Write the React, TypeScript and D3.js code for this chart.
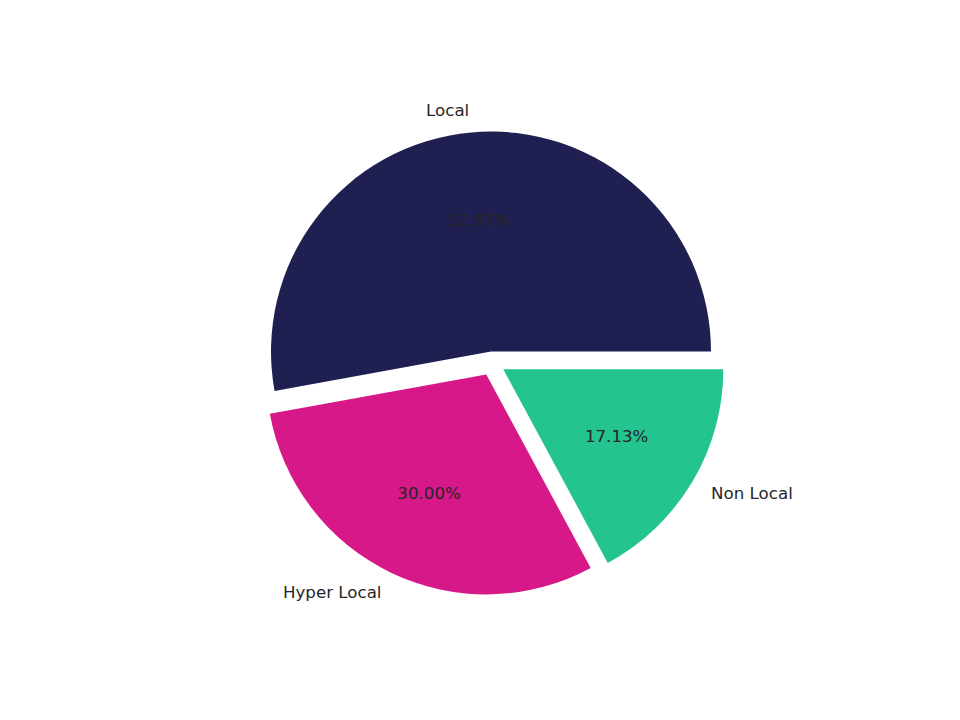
import React from "react";
import * as d3 from "d3";

const categories = ["Local", "Hyper Local", "Non Local"];
const values = [52.87, 30.0, 17.13];
const colors = ["#1f1f52", "#d61888", "#24c491"];
const explode = [0.05, 0.06, 0.06];

export default function App() {
  const width = 960;
  const height = 720;
  const cx = 492;
  const cy = 362.5;
  const r = 220;

  const pie = d3
    .pie<number>()
    .sort(null)
    .value((d) => d)
    .startAngle(Math.PI / 2)
    .endAngle(Math.PI / 2 - 2 * Math.PI);
  const arcs = pie(values);
  const arc = d3.arc<d3.PieArcDatum<number>>().innerRadius(0).outerRadius(r);
  const total = d3.sum(values);
  const textColor = "#262626";

  return (
    <svg
      width={width}
      height={height}
      style={{ position: "absolute", left: 0, top: 0, background: "#fff" }}
      fontFamily="DejaVu Sans, sans-serif"
    >
      {arcs.map((a, i) => {
        const mid = (a.startAngle + a.endAngle) / 2;
        const ux = Math.sin(mid);
        const uy = -Math.cos(mid);
        const ox = cx + ux * explode[i] * r;
        const oy = cy + uy * explode[i] * r;
        const lx = ux * r * 1.1;
        const ly = uy * r * 1.1;
        const px = ux * r * 0.6;
        const py = uy * r * 0.6;
        const pct = ((values[i] / total) * 100).toFixed(2) + "%";
        return (
          <g key={categories[i]} transform={`translate(${ox},${oy})`}>
            <path d={arc(a) || ""} fill={colors[i]} />
            <text
              x={lx}
              y={ly}
              fontSize={16.67}
              fill={textColor}
              textAnchor={lx < 0 ? "end" : "start"}
              dominantBaseline="central"
            >
              {categories[i]}
            </text>
            <text
              x={px}
              y={py}
              fontSize={16.67}
              fill={textColor}
              textAnchor="middle"
              dominantBaseline="central"
            >
              {pct}
            </text>
          </g>
        );
      })}
    </svg>
  );
}
